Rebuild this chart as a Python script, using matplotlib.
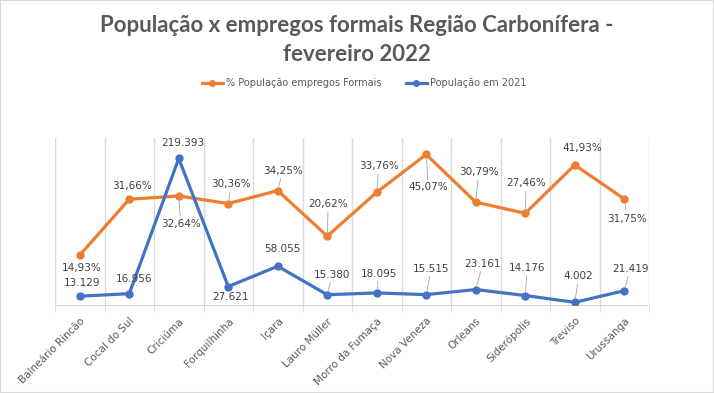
import matplotlib.pyplot as plt
from matplotlib.patches import Rectangle
from matplotlib.lines import Line2D

cidades = ['Balneário Rincão', 'Cocal do Sul', 'Criciúma', 'Forquilhinha', 'Içara',
           'Lauro Müller', 'Morro da Fumaça', 'Nova Veneza', 'Orleans', 'Siderópolis',
           'Treviso', 'Urussanga']
pct_empregos = [14.93, 31.66, 32.64, 30.36, 34.25, 20.62, 33.76, 45.07, 30.79, 27.46, 41.93, 31.75]
populacao = [13129, 16956, 219393, 27621, 58055, 15380, 18095, 15515, 23161, 14176, 4002, 21419]

# deslocamento dos rotulos (pixels)
off_pct = [(2, -13), (3, 13), (2, -28), (3, 20), (5, 20), (1, 32),
           (2, 26), (2, -33), (3, 30), (1, 30), (8, 17), (3, -20)]
off_pop = [(2, 13), (5, 15), (4, 15), (2, -10), (5, 17), (5, 20),
           (2, 19), (5, 26), (7, 26), (2, 28), (4, 26), (6, 22)]

laranja = '#ED7D31'
azul = '#4472C4'
cinza = '#595959'

fig = plt.figure(figsize=(7.14, 3.93), dpi=100)
fig.patches.append(Rectangle((0, 0), 1, 1, transform=fig.transFigure,
                             fill=False, edgecolor='#d9d9d9', lw=1.5))

ax = fig.add_axes([55/714, 88/393, 594/714, 167/393])
ax2 = ax.twinx()

x = list(range(len(cidades)))
ax.plot(x, pct_empregos, color=laranja, lw=2.3, marker='o', markersize=5, zorder=3)
ax2.plot(x, populacao, color=azul, lw=2.3, marker='o', markersize=5, zorder=3)

ax.set_ylim(0, 50)
ax2.set_ylim(0, 250000)
ax.set_xlim(-0.5, len(cidades) - 0.5)

for a in (ax, ax2):
    for s in a.spines.values():
        s.set_visible(False)
    a.set_yticks([])
ax.spines['bottom'].set_visible(True)
ax.spines['bottom'].set_color('#d9d9d9')

ax.set_xticks(x)
ax.set_xticklabels(cidades, rotation=45, ha='right', va='top', rotation_mode='anchor',
                   fontsize=7.5, color=cinza)
ax.tick_params(axis='x', which='major', length=0, pad=8)
ax.set_xticks([i - 0.5 for i in range(len(cidades) + 1)], minor=True)
ax.tick_params(axis='x', which='minor', length=5, color='#d9d9d9', direction='out')
ax.grid(which='minor', axis='x', color='#d9d9d9', lw=1)

lp = dict(arrowstyle='-', color='#a6a6a6', lw=0.6, shrinkA=0, shrinkB=3)
for i, v in enumerate(pct_empregos):
    dx, dy = off_pct[i]
    txt = f'{v:.2f}%'.replace('.', ',')
    ax.annotate(txt, (i, v), xytext=(dx, dy), textcoords='offset pixels',
                ha='center', va='center', fontsize=7.5, color='#404040',
                arrowprops=lp if abs(dy) >= 18 else None, zorder=5)
for i, v in enumerate(populacao):
    dx, dy = off_pop[i]
    txt = f'{v:,}'.replace(',', '.')
    ax2.annotate(txt, (i, v), xytext=(dx, dy), textcoords='offset pixels',
                 ha='center', va='center', fontsize=7.5, color='#404040',
                 arrowprops=lp if abs(dy) >= 18 else None, zorder=5)

fig.text(0.5, 1 - 40/393, 'População x empregos formais Região Carbonífera -\nfevereiro 2022',
         ha='center', va='center', fontsize=16, fontweight='bold', color=cinza,
         family=['Lato', 'DejaVu Sans'], linespacing=1.5)

handles = [Line2D([], [], color=laranja, lw=2.3, marker='o', markersize=4),
           Line2D([], [], color=azul, lw=2.3, marker='o', markersize=4)]
leg = fig.legend(handles, ['% População empregos Formais', 'População em 2021'],
                 loc='center', bbox_to_anchor=(364/714, 1 - 83/393), ncol=2, frameon=False,
                 fontsize=7, handlelength=2.2, handletextpad=0.3, columnspacing=2.5)
for t in leg.get_texts():
    t.set_color(cinza)

fig.savefig('out.png', dpi=100)
